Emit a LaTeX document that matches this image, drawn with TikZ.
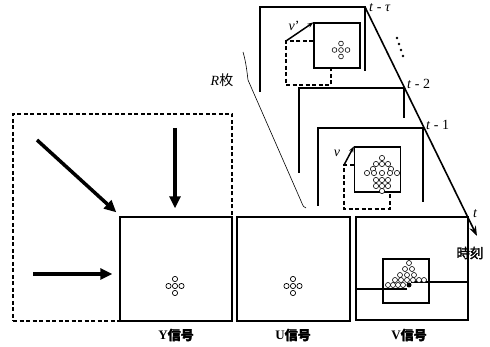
\documentclass[tikz,border=0pt]{standalone}
\usepackage{fontspec}
\setmainfont{Liberation Serif}
\newfontfamily\cjk{Noto Sans CJK JP}
\newfontfamily\cjkb{Noto Sans CJK JP}[FakeBold=2]
\usetikzlibrary{arrows.meta,calc}
\begin{document}
\begin{tikzpicture}[x=1pt,y=-1pt,
  frame/.style={draw,line width=1.4pt,inner sep=0pt},
  bigbox/.style={frame,minimum width=112pt,minimum height=104pt},
  smallbox/.style={frame,line width=1.2pt,minimum width=46pt,minimum height=45pt},
  dashbox/.style={line width=1.2pt,dash pattern=on 4pt off 2.5pt},
  fat/.style={line width=3.5pt,-{Triangle[length=12pt,width=11pt]}},
  mv/.style={line width=1.5pt,-{Stealth[length=6pt,width=4.5pt]}},
  thin/.style={line width=0.6pt},
  dot/.style={line width=0.7pt,fill=white},
  lab/.style={inner sep=0pt,font=\fontsize{14}{16}\selectfont},
  blab/.style={inner sep=0pt,font=\fontsize{13}{15}\selectfont\bfseries}]
\useasboundingbox (0,0) rectangle (490,347);

% dashed window
\node[draw,dashbox,line width=1.4pt,minimum width=219pt,minimum height=207pt,inner sep=0pt] (win) at (122.5,217.5) {};

% three signal boxes
\node[bigbox,fill=white] (Y) at (176,269) {};
\node[bigbox,minimum width=113pt] (U) at (293.5,269) {};
\node[bigbox,minimum height=103pt] (V) at (412,268.5) {};

\node[blab] (ly) at (176,335) {Y{\cjkb 信号}};
\node[blab] (lu) at (293,335) {U{\cjkb 信号}};
\node[blab] (lv) at (409,335) {V{\cjkb 信号}};

% fat arrows
\coordinate (a1) at (37,140);
\coordinate (a2) at (175,128);
\coordinate (a3) at (33,274);
\draw[fat] (a1) -- ($(Y.north west)+(-3,-4)$);
\draw[fat] (a2) -- ($(Y.north)+(-1,-8)$);
\draw[fat] (a3) -- ($(Y.west)+(-7,5)$);

% Y and U dots
\foreach \cx/\cy in {175/286, 293/286} {
  \foreach \dx/\dy in {0/-7,-6.5/0,6.5/0,0/7,0/0}
    \draw[dot] (\cx+\dx,\cy+\dy) circle (2.6);
}

% previous frames
\coordinate (ftau) at (365,7);
\coordinate (tauL) at (260,92);
\coordinate (tauR) at (365,71);
\coordinate (f2) at (404,88);
\coordinate (f2L) at (299,173);
\coordinate (f2R) at (404,118);
\coordinate (f1) at (423,128);
\coordinate (f1L) at (318,206);
\coordinate (f1R) at (423,202);
\coordinate (tend) at (477,236);
\draw[frame] (tauL) |- (ftau) -- (tauR);
\draw[frame] (f2L) |- (f2) -- (f2R);
\draw[frame] (f1L) |- (f1) -- (f1R);
\draw[line width=1.6pt,-{Stealth[length=10pt,width=7pt]}] (ftau) -- (tend);

% frame labels
\node[lab,anchor=west] (ltau) at (369,8) {\textit{t} - \textit{τ}};
\node[lab,anchor=west] (l2) at (407,84) {\textit{t} - 2};
\node[lab,anchor=west] (l1) at (426,125) {\textit{t} - 1};
\node[lab,anchor=west] (lt) at (473,214) {\textit{t}};
\node[inner sep=0pt,font=\fontsize{13.5}{15}\selectfont\cjkb] (ljk) at (470,253) {時刻};
\foreach \px/\py in {397/38,399/44,401/50,403/56}
  \fill (\px,\py) circle (1.4);

% R frames brace line
\node[lab] (lR) at (222,80) {\textit{R}{\cjk 枚}};
\coordinate (br0) at (243,52);
\coordinate (br1) at (248,80);
\coordinate (br2) at (306,208);
\draw[thin] (br0) .. controls (246,62) and (247,72) .. (br1) -- (301,201) .. controls (303,206) and (304,208) .. (br2);

% t-tau small block
\node[smallbox] (bt) at (337,45.5) {};
\coordinate (dt) at (286,41);
\draw[dashbox] (bt.west |- dt) -- (dt) -- (286,85) -- (331,85) -- (331,68);
\draw[mv] (dt) -- (bt.north west);
\node[lab] (lvp) at (294,26) {\textit{v}'};
\foreach \dx/\dy in {0/-6.5,-6.5/0,6.5/0,0/6.5,0/0}
  \draw[dot,line width=0.6pt] (341+\dx,50+\dy) circle (2.4);

% t-1 small block
\node[smallbox] (b1) at (377.5,169.5) {};
\coordinate (d1) at (344,165);
\draw[dashbox] (b1.west |- d1) -- (d1) -- (344,209) -- (390,209) -- (390,192);
\draw[mv] (d1) -- (b1.north west);
\node[lab] (lv) at (337,153) {\textit{v}};
\foreach \px/\py in {382/158, 376/164,382/164,388/164, 373/169,391/169,
  367/173,374/173,382/173,390/173,397/173, 376/180,382/180,388/180,
  376/186,382/186,388/186, 382/191}
  \draw[dot,line width=0.6pt] (\px,\py) circle (2.6);

% V block
\node[smallbox,minimum height=44pt] (bv) at (406,281) {};
\coordinate (vl) at (407,289);
\coordinate (vr) at (411,282);
\draw[line width=1.1pt] (V.west |- vl) -- (vl);
\draw[line width=1.1pt] (vr) -- (V.east |- vr);
\foreach \px/\py in {409/263, 405/269,412/269, 400/275,407/275,414/275,
  395/280,401/280,407/280,413/280,419/280,424/280,
  388/285,393/285,398/285,403/285}
  \draw[dot,line width=0.6pt] (\px,\py) circle (2.5);
\fill (409,285) circle (2.5);
\end{tikzpicture}
\end{document}
